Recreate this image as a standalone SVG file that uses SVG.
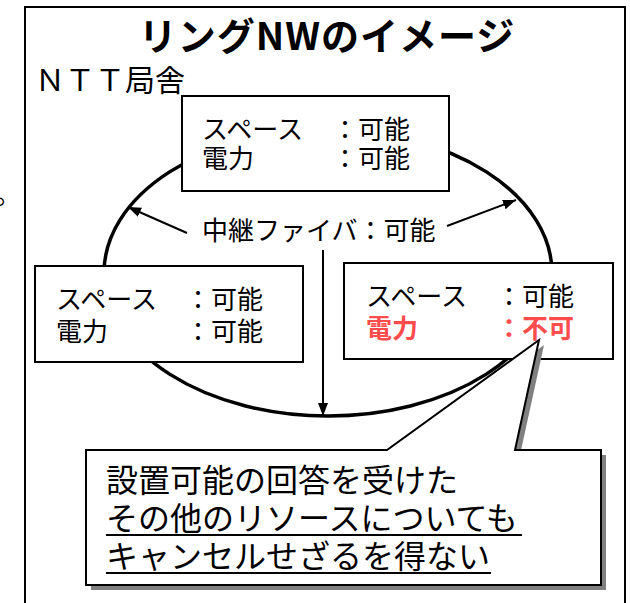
<svg xmlns="http://www.w3.org/2000/svg" width="630" height="603" viewBox="0 0 630 603">
<defs>
<style>
.t{font-family:"Noto Sans CJK JP","Noto Sans",sans-serif;fill:#000}
.box{fill:#fff;stroke:#000;stroke-width:2}
.red{fill:#FF4D4D;font-weight:bold}
.ln{stroke:#000;stroke-width:2;fill:none}
</style>
<marker id="ah" viewBox="0 0 13 10" refX="13" refY="5" markerUnits="userSpaceOnUse" markerWidth="13" markerHeight="10" orient="auto">
<path d="M0,0 L13,5 L0,10 z" fill="#000"/>
</marker>
</defs>
<rect width="630" height="603" fill="#fff"/>
<path d="M25,610 V7 H625 V610" fill="none" stroke="#000" stroke-width="2"/>
<text class="t" x="-5" y="204" font-size="26">。</text>
<text class="t" x="327" y="50" font-size="38" font-weight="bold" letter-spacing="1" text-anchor="middle">リングNWのイメージ</text>
<text class="t" x="35" y="91" font-size="30">ＮＴＴ局舎</text>
<g id="ring">
<ellipse cx="328" cy="273" rx="224" ry="143" fill="none" stroke="#000" stroke-width="3.5"/>
</g>
<g id="connectors">
<line class="ln" x1="187" y1="233" x2="128" y2="207" marker-end="url(#ah)"/>
<line class="ln" x1="447" y1="226" x2="516" y2="200" marker-end="url(#ah)"/>
<line class="ln" x1="323" y1="250" x2="323" y2="416" marker-end="url(#ah)"/>
</g>
<g id="fiber-label">
<text class="t" x="202" y="240" font-size="26">中継ファイバ：可能</text>
</g>
<g id="node-top">
<rect class="box" x="182" y="96" width="267" height="95"/>
<text class="t" x="202" y="139" font-size="26">スペース</text>
<text class="t" x="332" y="139" font-size="26">：可能</text>
<text class="t" x="202" y="168" font-size="26">電力</text>
<text class="t" x="332" y="168" font-size="26">：可能</text>
</g>
<g id="node-left">
<rect class="box" x="35" y="266" width="268" height="96"/>
<text class="t" x="56" y="309" font-size="26">スペース</text>
<text class="t" x="185" y="309" font-size="26">：可能</text>
<text class="t" x="56" y="341" font-size="26">電力</text>
<text class="t" x="185" y="341" font-size="26">：可能</text>
</g>
<g id="node-right">
<rect class="box" x="344" y="263" width="269" height="96"/>
<text class="t" x="366" y="306" font-size="26">スペース</text>
<text class="t" x="496" y="306" font-size="26">：可能</text>
<text class="t red" x="366" y="338" font-size="26">電力</text>
<text class="t red" x="496" y="338" font-size="26">：不可</text>
</g>
<g id="callout">
<polygon points="91,455 392,455 544,345 520,455 606,455 606,590 91,590" fill="#808080"/>
<polygon points="86,450 387,450 539,340 515,450 601,450 601,585 86,585" fill="#fff" stroke="#000" stroke-width="2" stroke-linejoin="miter"/>
<text class="t" x="106" y="492" font-size="32">設置可能の回答を受けた</text>
<text class="t" x="106" y="530" font-size="32">その他のリソースについても</text>
<text class="t" x="106" y="568" font-size="32">キャンセルせざるを得ない</text>
<line x1="106" y1="535" x2="522" y2="535" stroke="#000" stroke-width="2"/>
<line x1="106" y1="573" x2="491" y2="573" stroke="#000" stroke-width="2"/>
</g>
</svg>
